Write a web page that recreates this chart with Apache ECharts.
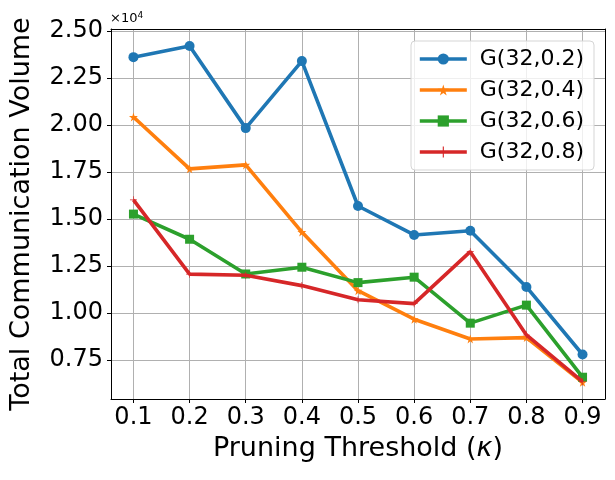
<!DOCTYPE html>
<html>
<head>
<meta charset="utf-8">
<script src="https://cdn.jsdelivr.net/npm/echarts@6/dist/echarts.min.js"></script>
<style>
html, body { margin: 0; padding: 0; background: #fff; }
#main { width: 615px; height: 480px; }
</style>
</head>
<body>
<div id="main"></div>
<script>
// pruning thresholds (kappa)
var thresholds = [0.1, 0.2, 0.3, 0.4, 0.5, 0.6, 0.7, 0.8, 0.9];
var seriesNames = ['G(32,0.2)', 'G(32,0.4)', 'G(32,0.6)', 'G(32,0.8)'];
// total communication volume
var g02 = [23620, 24210, 19840, 23410, 15690, 14150, 14370, 11380, 7780];
var g04 = [20430, 17670, 17880, 14300, 11180, 9660, 8610, 8680, 6300];
var g06 = [15260, 13920, 12070, 12430, 11610, 11900, 9450, 10410, 6570];
var g08 = [16020, 12060, 12000, 11450, 10700, 10490, 13260, 8820, 6330];
var yTicks = [7500, 10000, 12500, 15000, 17500, 20000, 22500, 25000];

var colors = ['#1f77b4', '#ff7f0e', '#2ca02c', '#d62728'];
var starPath = 'path://M50,0 L61,35 L98,35 L68,57 L79,91 L50,70 L21,91 L32,57 L2,35 L39,35 Z';
var plusPath = 'path://M45,0 L55,0 L55,45 L100,45 L100,55 L55,55 L55,100 L45,100 L45,55 L0,55 L0,45 L45,45 Z';
var symbols = ['circle', starPath, 'rect', plusPath];
var symbolSizes = [10, 9, 9, 7];
var allData = [g02, g04, g06, g08];

var myChart = echarts.init(document.getElementById('main'));
var font = 'DejaVu Sans';

var series = allData.map(function (vals, i) {
  return {
    name: seriesNames[i],
    type: 'line',
    data: thresholds.map(function (t, j) { return [t, vals[j]]; }),
    symbol: symbols[i],
    symbolSize: symbolSizes[i],
    showAllSymbol: true,
    itemStyle: { color: colors[i] },
    lineStyle: { color: colors[i], width: 3.6 },
    emphasis: { disabled: true },
    animation: false,
    z: 3 + i
  };
});

option = {
  backgroundColor: '#fff',
  animation: false,
  textStyle: { fontFamily: font },
  grid: { left: 109, right: 10, top: 29, bottom: 81 },
  legend: {
    data: seriesNames,
    orient: 'vertical',
    right: 21,
    top: 41,
    itemWidth: 47,
    itemHeight: 14,
    itemGap: 9,
    padding: [7, 10, 7, 7],
    backgroundColor: 'rgba(255,255,255,0.8)',
    borderColor: '#d5d5d5',
    borderWidth: 1,
    borderRadius: 4,
    lineStyle: { width: 3.6 },
    textStyle: { fontFamily: font, fontSize: 22, lineHeight: 22, color: '#000', padding: [0, 0, 0, 8] }
  },
  xAxis: [{
    type: 'value',
    min: 0.06,
    max: 0.94,
    name: '{a|Pruning Threshold (}{i|κ}{a|)}',
    nameLocation: 'middle',
    nameGap: 36,
    nameTextStyle: {
      rich: {
        a: { fontFamily: font, fontSize: 27, color: '#000' },
        i: { fontFamily: font, fontSize: 27, color: '#000', fontStyle: 'italic' }
      }
    },
    axisLine: { lineStyle: { color: '#000', width: 1 } },
    axisTick: { show: true, length: 4, lineStyle: { color: '#000' }, customValues: thresholds },
    axisLabel: {
      customValues: thresholds,
      fontFamily: font, fontSize: 24, color: '#000', margin: 7,
      formatter: function (v) { return v.toFixed(1); }
    },
    splitLine: { show: true, lineStyle: { color: '#b0b0b0', width: 1 } }
  }, {
    type: 'value',
    position: 'top',
    min: 0.06,
    max: 0.94,
    axisLine: { show: true, onZero: false, lineStyle: { color: '#000', width: 1 } },
    axisTick: { show: false },
    axisLabel: { show: false },
    splitLine: { show: false }
  }],
  yAxis: [{
    type: 'value',
    min: 5410,
    max: 25120,
    name: 'Total Communication Volume',
    nameLocation: 'middle',
    nameGap: 76,
    nameTextStyle: { fontFamily: font, fontSize: 27, color: '#000' },
    axisLine: { show: true, lineStyle: { color: '#000', width: 1 } },
    axisTick: { show: true, length: 4, lineStyle: { color: '#000' }, customValues: yTicks },
    axisLabel: {
      customValues: yTicks,
      fontFamily: font, fontSize: 24, color: '#000', margin: 8,
      formatter: function (v) { return (v / 10000).toFixed(2); }
    },
    splitLine: { show: true, lineStyle: { color: '#b0b0b0', width: 1 } }
  }, {
    type: 'value',
    position: 'right',
    min: 5410,
    max: 25120,
    axisLine: { show: true, onZero: false, lineStyle: { color: '#000', width: 1 } },
    axisTick: { show: false },
    axisLabel: { show: false },
    splitLine: { show: false }
  }],
  graphic: [{
    type: 'text',
    left: 110,
    top: 11,
    style: {
      text: '{a|×10}{s|4}',
      rich: {
        a: { fontFamily: font, fontSize: 13, fill: '#000', color: '#000' },
        s: { fontFamily: font, fontSize: 9, color: '#000', verticalAlign: 'top', padding: [0, 0, 6, 0] }
      }
    }
  }],
  series: series
};

myChart.setOption(option);
</script>
</body>
</html>
